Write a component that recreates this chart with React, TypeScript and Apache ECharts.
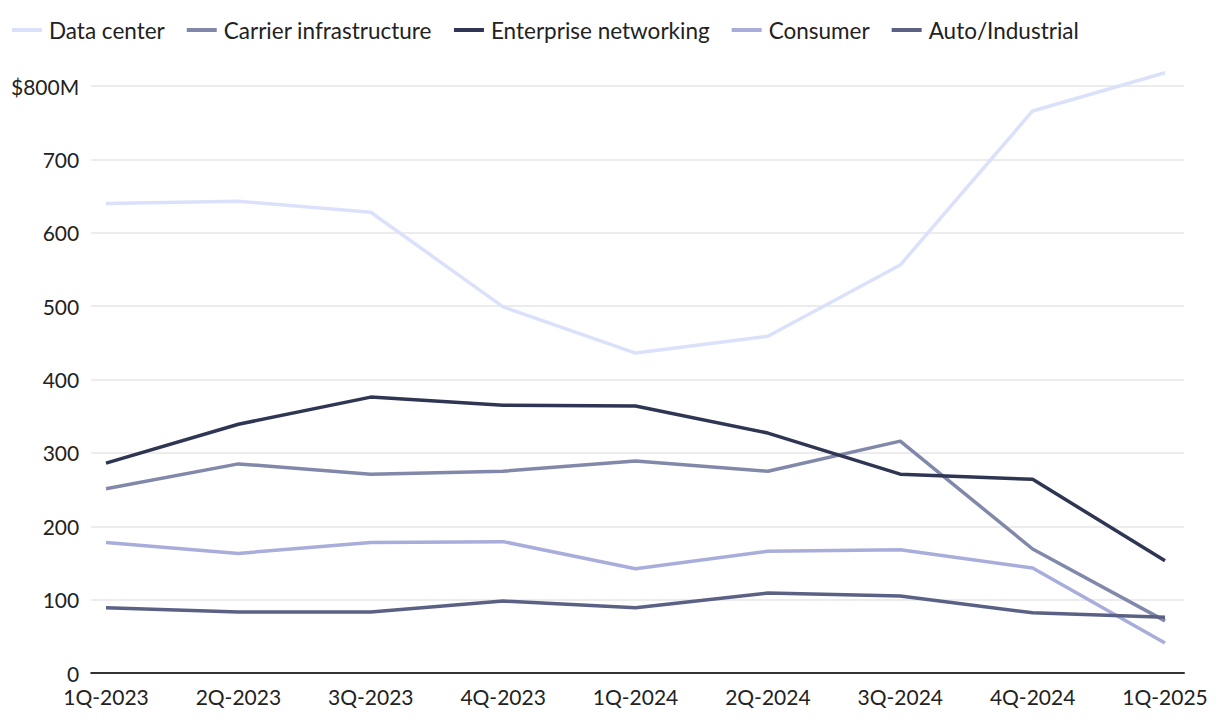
import React, { useEffect, useRef } from "react";
import * as echarts from "echarts";

const categories = ["1Q-2023", "2Q-2023", "3Q-2023", "4Q-2023", "1Q-2024", "2Q-2024", "3Q-2024", "4Q-2024", "1Q-2025"];
const dataCenter = [640, 643, 628, 499, 436, 459, 556, 766, 818];
const carrier = [251, 285, 271, 275, 289, 275, 316, 169, 71];
const enterprise = [286, 339, 376, 365, 364, 327, 271, 264, 153];
const consumer = [178, 163, 178, 179, 142, 166, 168, 143, 41];
const autoIndustrial = [89, 83, 83, 98, 89, 109, 105, 82, 76];
const seriesNames = ["Data center", "Carrier infrastructure", "Enterprise networking", "Consumer", "Auto/Industrial"];
const seriesColors = ["#dce1fb", "#8288aa", "#2f3653", "#a8addb", "#5b6184"];
const yTicks = [0, 100, 200, 300, 400, 500, 600, 700, 800];

const FONT = "Lato, sans-serif";

export default function App() {
  const ref = useRef<HTMLDivElement>(null);
  useEffect(() => {
    if (!ref.current) return;
    const chart = echarts.init(ref.current, undefined, { renderer: "svg" });
    const allData = [dataCenter, carrier, enterprise, consumer, autoIndustrial];
    chart.setOption({
      animation: false,
      textStyle: { fontFamily: FONT },
      legend: {
        top: 10,
        left: 4,
        padding: 0,
        itemWidth: 30,
        itemHeight: 4,
        itemGap: 22,
        icon: "rect",
        textStyle: { fontSize: 22.5, lineHeight: 24, color: "#222", fontFamily: FONT, padding: [0, 0, 0, 2] },
        data: seriesNames,
      },
      grid: [
        { left: 79, right: 28, top: 78, bottom: 45 },
        { left: 98, right: 47, top: 78, bottom: 45 },
      ],
      xAxis: [
        {
          gridIndex: 0,
          type: "value",
          min: 0,
          max: 1,
          axisLine: { show: true, onZero: false, lineStyle: { color: "#333", width: 2 } },
          axisTick: { show: false },
          axisLabel: { show: false },
          splitLine: { show: false },
        },
        {
          gridIndex: 1,
          type: "category",
          boundaryGap: false,
          data: categories,
          axisLine: { show: false },
          axisTick: { show: false },
          axisLabel: { fontSize: 21, lineHeight: 18, color: "#222", margin: 14, fontFamily: FONT },
          splitLine: { show: false },
        },
      ],
      yAxis: [
        {
          gridIndex: 0,
          type: "value",
          min: 0,
          max: 800,
          interval: 100,
          axisLine: { show: false },
          axisTick: { show: false },
          axisLabel: {
            fontSize: 21,
            lineHeight: 18,
            color: "#222",
            margin: 12,
            fontFamily: FONT,
            formatter: (v: number) => (v === yTicks[yTicks.length - 1] ? `$${v}M` : `${v}`),
          },
          splitLine: { show: true, lineStyle: { color: "#e6e6e6", width: 1.5 } },
        },
        {
          gridIndex: 1,
          type: "value",
          min: 0,
          max: 800,
          interval: 100,
          show: false,
          splitLine: { show: false },
        },
      ],
      series: seriesNames.map((name, i) => ({
        name,
        type: "line",
        xAxisIndex: 1,
        yAxisIndex: 1,
        data: allData[i],
        symbol: "none",
        clip: false,
        lineStyle: { color: seriesColors[i], width: 3.5 },
        itemStyle: { color: seriesColors[i] },
      })),
    });
    return () => chart.dispose();
  }, []);
  return <div ref={ref} style={{ width: 1204, height: 710 }} />;
}
